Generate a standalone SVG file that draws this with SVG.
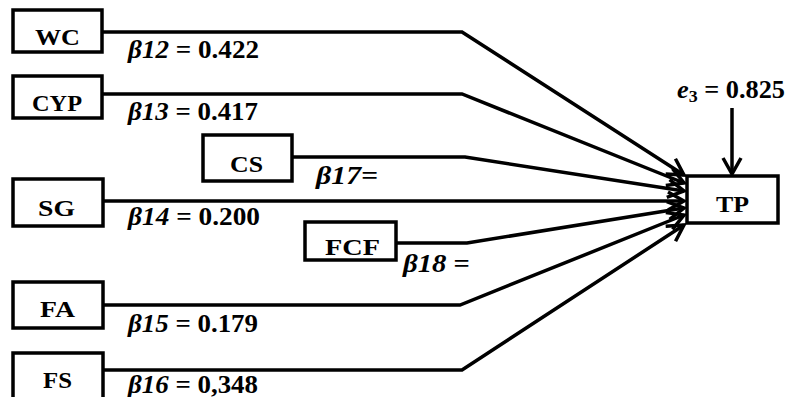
<svg xmlns="http://www.w3.org/2000/svg" width="787" height="397" viewBox="0 0 787 397">
<style>
.box{fill:#fff;stroke:#000;stroke-width:3.5}
.lbl{font-family:"Liberation Serif","Times New Roman",serif;font-weight:bold;font-size:23px;fill:#000}
.beta{font-family:"Liberation Serif","Times New Roman",serif;font-weight:bold;font-size:25px;fill:#000}
.it{font-style:italic}
.conn{fill:none;stroke:#000;stroke-width:3.5;stroke-linejoin:miter}
</style>
<defs>
<marker id="arr" markerUnits="userSpaceOnUse" markerWidth="22" markerHeight="22" viewBox="0 0 22 22" refX="19" refY="11" orient="auto">
<path d="M3,2 L19,11 L3,20" fill="none" stroke="#000" stroke-width="3.5"/>
</marker>
</defs>
<rect width="787" height="397" fill="#fff"/>
<g id="connectors">
<polyline class="conn" points="102,32 462,32 684,175" marker-end="url(#arr)"/>
<polyline class="conn" points="102,94 462,94 684,183" marker-end="url(#arr)"/>
<polyline class="conn" points="292,157 465,157 684,191" marker-end="url(#arr)"/>
<polyline class="conn" points="103,201 684,201" marker-end="url(#arr)"/>
<polyline class="conn" points="396,243 467,243 684,208" marker-end="url(#arr)"/>
<polyline class="conn" points="103,305 460,305 684,215" marker-end="url(#arr)"/>
<polyline class="conn" points="103,370 462,370 684,225" marker-end="url(#arr)"/>
<line class="conn" x1="732" y1="108" x2="732" y2="174" marker-end="url(#arr)"/>
</g>
<g id="WC"><rect class="box" x="13" y="10" width="89" height="42"/><text class="lbl" x="35" y="45" textLength="45" lengthAdjust="spacingAndGlyphs">WC</text></g>
<g id="CYP"><rect class="box" x="13" y="76" width="89" height="42"/><text class="lbl" x="32" y="111" textLength="50" lengthAdjust="spacingAndGlyphs">CYP</text></g>
<g id="CS"><rect class="box" x="203" y="135" width="89" height="46"/><text class="lbl" x="230" y="172" textLength="33" lengthAdjust="spacingAndGlyphs">CS</text></g>
<g id="SG"><rect class="box" x="13" y="179" width="90" height="47"/><text class="lbl" x="38" y="216" textLength="37" lengthAdjust="spacingAndGlyphs">SG</text></g>
<g id="FCF"><rect class="box" x="305" y="222" width="91" height="38"/><text class="lbl" x="325" y="255" textLength="55" lengthAdjust="spacingAndGlyphs">FCF</text></g>
<g id="FA"><rect class="box" x="13" y="282" width="90" height="46"/><text class="lbl" x="40" y="317" textLength="35" lengthAdjust="spacingAndGlyphs">FA</text></g>
<g id="FS"><rect class="box" x="13" y="353" width="90" height="48"/><text class="lbl" x="43" y="388" textLength="29" lengthAdjust="spacingAndGlyphs">FS</text></g>
<g id="TP"><rect class="box" x="687" y="176" width="91" height="47"/><text class="lbl" x="716" y="212" textLength="33" lengthAdjust="spacingAndGlyphs">TP</text></g>
<g id="labels">
<text class="beta" x="128" y="58" textLength="131" lengthAdjust="spacingAndGlyphs"><tspan class="it">β12</tspan> = 0.422</text>
<text class="beta" x="128" y="120" textLength="130" lengthAdjust="spacingAndGlyphs"><tspan class="it">β13</tspan> = 0.417</text>
<text class="beta" x="316" y="184" textLength="62" lengthAdjust="spacingAndGlyphs"><tspan class="it">β17=</tspan></text>
<text class="beta" x="128" y="225" textLength="132" lengthAdjust="spacingAndGlyphs"><tspan class="it">β14</tspan> = 0.200</text>
<text class="beta" x="403" y="272" textLength="67" lengthAdjust="spacingAndGlyphs"><tspan class="it">β18</tspan> =</text>
<text class="beta" x="128" y="332" textLength="130" lengthAdjust="spacingAndGlyphs"><tspan class="it">β15</tspan> = 0.179</text>
<text class="beta" x="128" y="393" textLength="130" lengthAdjust="spacingAndGlyphs"><tspan class="it">β16</tspan> = 0,348</text>
<text class="beta" x="677" y="98" textLength="108" lengthAdjust="spacingAndGlyphs"><tspan class="it">e</tspan><tspan font-size="17" dy="4">3</tspan><tspan dy="-4"> = 0.825</tspan></text>
</g>
</svg>
